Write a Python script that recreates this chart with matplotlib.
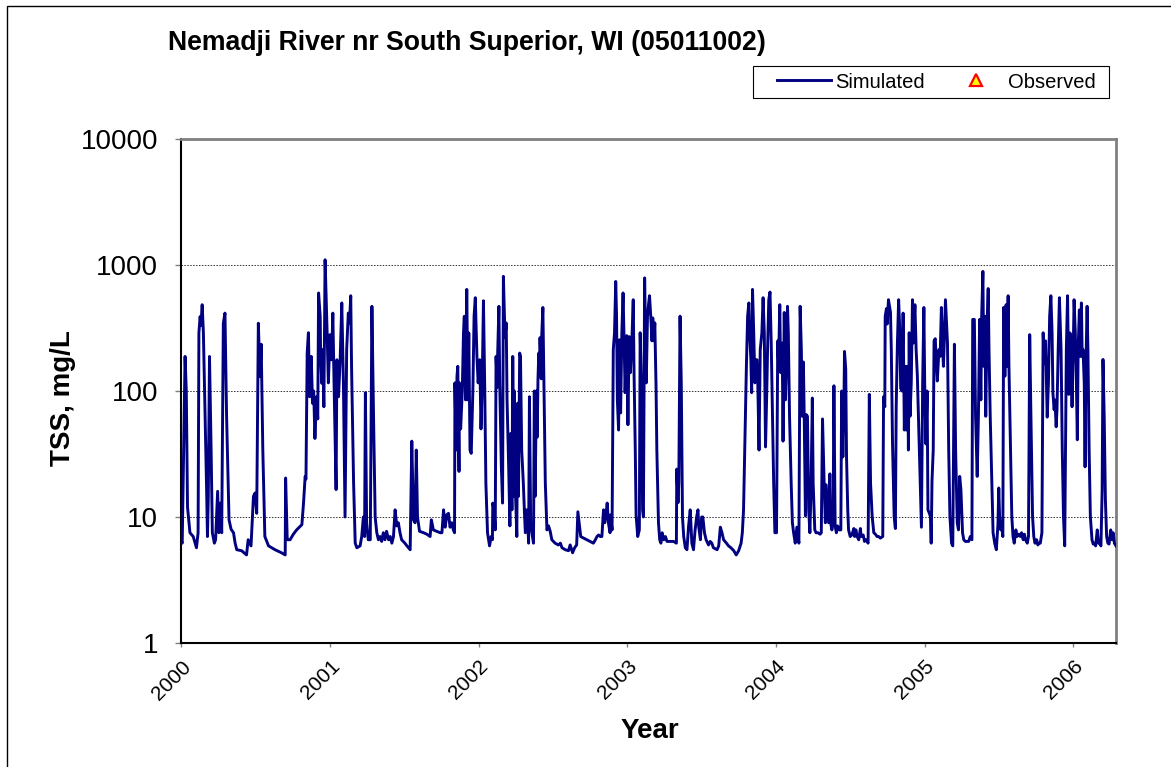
import numpy as np
import matplotlib
matplotlib.use("Agg")
import matplotlib.pyplot as plt
from matplotlib.patches import Rectangle
from matplotlib.ticker import FixedLocator, NullLocator

plt.rcParams['font.family'] = ['Liberation Sans', 'DejaVu Sans']

title = "Nemadji River nr South Superior, WI (05011002)"
start = np.datetime64('2000-01-01')
end_day = 2297
year_labels = ['2000', '2001', '2002', '2003', '2004', '2005', '2006']
y_ticks = [1, 10, 100, 1000, 10000]

# days since 2000-01-01, simulated TSS (mg/L), split by calendar year
day_2000 = [0, 3, 10, 13, 16, 22, 30, 38, 42, 44, 47, 49, 52, 55, 63, 65, 67, 70, 74, 77,
            82, 85, 90, 93, 97, 100, 104, 108, 112, 118, 123, 129, 133, 137, 149, 161, 165,
            172, 178, 182, 186, 190, 194, 197, 201, 206, 215, 231, 247, 256, 257, 261, 268,
            276, 284, 297, 301, 305, 307, 310, 313, 316, 320, 323, 326, 329, 333, 336, 338,
            342, 343, 346, 348, 351, 354, 359, 362]
tss_2000 = [6.5, 6.2, 188, 100, 12, 7.5, 7.0, 5.7, 7.5, 290, 390, 330, 484, 290, 16, 7.0, 14,
            188, 34, 7.5, 6.2, 6.6, 16, 7.5, 12.9, 7.5, 345, 415, 63, 9.5, 8.0, 7.5, 6.2, 5.5,
            5.4, 5.0, 6.6, 5.9, 14.6, 15.5, 10.7, 345, 130, 235, 34, 7.0, 5.9, 5.5, 5.2, 5.0,
            20.4, 6.6, 6.6, 7.3, 7.9, 8.7, 12.9, 21, 20, 200, 290, 90, 188, 80, 100, 42, 90,
            60, 600, 390, 188, 115, 213, 75, 1100, 290, 116]

day_2001 = [366, 370, 373, 376, 381, 383, 387, 391, 395, 399, 403, 407, 411, 414, 417, 419,
            424, 428, 432, 440, 444, 448, 451, 453, 456, 460, 465, 469, 473, 477, 481, 485,
            489, 493, 497, 501, 505, 510, 514, 518, 522, 526, 530, 534, 538, 542, 546, 550,
            555, 563, 567, 571, 575, 578, 581, 586, 596, 604, 612, 615, 620, 628, 637, 641,
            645, 649, 653, 657, 661, 665, 669, 672, 673, 676, 678, 680, 683, 684, 687, 691,
            694, 696, 699, 702, 705, 707, 710, 713, 717, 720, 723, 727, 730]
tss_2001 = [280, 177, 415, 116, 16.5, 177, 90, 177, 500, 116, 10, 213, 415, 347, 570, 157,
            18.6, 6.2, 5.7, 5.9, 7.0, 10, 7.0, 97, 9.0, 6.6, 6.6, 470, 63, 10, 7.5, 6.6, 7.0,
            6.4, 7.5, 6.6, 7.7, 6.6, 7.0, 6.2, 7.0, 11.4, 8.5, 9.0, 7.5, 6.6, 6.4, 6.2, 5.9,
            5.5, 40, 9.5, 9.0, 34, 10, 7.7, 7.5, 7.3, 7.0, 9.5, 7.9, 7.7, 7.5, 7.5, 11.4, 8.3,
            10.4, 10.7, 8.3, 9.0, 7.9, 7.5, 116, 34, 131, 157, 23, 116, 50, 100, 289, 392, 85,
            640, 85, 289, 34, 32, 100, 392, 550, 188, 116]

day_2002 = [734, 737, 740, 743, 746, 749, 753, 758, 762, 765, 766, 769, 772, 774, 777, 778,
            781, 783, 787, 790, 792, 795, 796, 799, 801, 805, 808, 810, 813, 815, 818, 819,
            822, 825, 827, 829, 832, 834, 837, 841, 844, 846, 849, 851, 854, 856, 859, 862,
            866, 868, 870, 873, 875, 877, 879, 881, 882, 885, 886, 889, 891, 895, 899, 903,
            907, 911, 919, 927, 932, 936, 944, 952, 956, 962, 967, 972, 975, 978, 982, 989,
            997, 1005, 1013, 1018, 1022, 1026, 1030, 1034, 1038, 1041, 1044, 1047, 1050,
            1054, 1055, 1059, 1062, 1065, 1068, 1070, 1072, 1075, 1077, 1080, 1083, 1086,
            1089, 1091, 1095]
tss_2002 = [177, 50, 116, 520, 116, 18.6, 7.5, 5.9, 7.0, 6.6, 12.9, 11.4, 7.9, 188, 107, 200,
            470, 116, 25, 12.9, 813, 347, 265, 347, 85, 25, 8.5, 46, 11.4, 188, 14.6, 100,
            14.6, 7.0, 80, 14.6, 200, 188, 34, 18.6, 10.4, 7.5, 11.4, 10.4, 6.2, 90, 9.0, 7.5,
            6.2, 100, 14.6, 100, 43, 125, 200, 131, 265, 125, 265, 460, 157, 18.6, 7.9, 8.5,
            7.7, 6.6, 6.2, 6.0, 6.2, 5.7, 5.5, 5.4, 6.0, 5.2, 5.7, 6.0, 11.0, 9.0, 7.0, 6.8,
            6.6, 6.4, 6.2, 6.6, 7.0, 7.2, 7.0, 7.0, 11.4, 9.0, 10.4, 12.9, 9.0, 7.5, 10.4,
            7.9, 213, 289, 740, 392, 85, 49, 255, 67, 289, 600, 213, 97, 275]

day_2003 = [1098, 1101, 1104, 1108, 1111, 1113, 1116, 1118, 1122, 1126, 1128, 1131, 1134,
            1136, 1139, 1143, 1146, 1149, 1151, 1154, 1157, 1159, 1162, 1164, 1167, 1169,
            1173, 1176, 1179, 1182, 1186, 1190, 1194, 1202, 1210, 1217, 1218, 1221, 1223,
            1226, 1229, 1232, 1235, 1239, 1243, 1247, 1251, 1255, 1259, 1263, 1267, 1270,
            1272, 1276, 1279, 1282, 1286, 1290, 1296, 1300, 1304, 1308, 1317, 1321, 1325,
            1329, 1333, 1340, 1345, 1351, 1358, 1364, 1370, 1376, 1379, 1382, 1385, 1389,
            1392, 1395, 1397, 1400, 1402, 1404, 1407, 1410, 1412, 1415, 1417, 1420, 1423,
            1427, 1430, 1433, 1436, 1439, 1441, 1444, 1447, 1450, 1453, 1456, 1459]
tss_2003 = [54, 270, 140, 270, 530, 140, 34, 10.4, 7.0, 7.9, 290, 116, 11.4, 10, 790, 116,
            392, 500, 570, 392, 250, 380, 250, 347, 110, 34, 9.0, 6.6, 6.2, 7.5, 6.6, 7.0,
            6.4, 6.4, 6.4, 6.2, 24, 13, 19, 392, 116, 10, 7.0, 5.7, 5.5, 8.5, 11.4, 6.2, 5.5,
            7.9, 10.1, 11.4, 8.3, 6.6, 10, 10, 7.5, 6.6, 6.0, 6.4, 6.2, 5.7, 5.5, 5.9, 8.3,
            7.5, 6.6, 6.2, 5.9, 5.7, 5.4, 5.0, 5.4, 6.2, 7.5, 11.4, 34, 157, 392, 500, 289,
            177, 97, 640, 289, 116, 177, 177, 116, 34, 213, 289, 550, 289, 36, 97, 213, 530,
            610, 240, 63, 18.6, 7.5]

day_2004 = [1463, 1466, 1468, 1471, 1473, 1477, 1479, 1482, 1485, 1488, 1490, 1492, 1495,
            1499, 1502, 1505, 1509, 1513, 1518, 1521, 1524, 1526, 1529, 1531, 1534, 1536,
            1539, 1542, 1545, 1548, 1551, 1553, 1557, 1560, 1565, 1570, 1573, 1576, 1580,
            1583, 1585, 1588, 1591, 1594, 1596, 1599, 1602, 1604, 1607, 1610, 1613, 1617,
            1621, 1623, 1626, 1629, 1630, 1633, 1635, 1638, 1640, 1644, 1648, 1653, 1655,
            1658, 1661, 1665, 1669, 1671, 1676, 1679, 1683, 1688, 1691, 1694, 1698, 1702,
            1706, 1710, 1714, 1718, 1724, 1726, 1729, 1730, 1733, 1735, 1738, 1741, 1743,
            1745, 1748, 1752, 1755, 1757, 1760, 1763, 1766, 1768, 1771, 1774, 1777, 1780,
            1782, 1785, 1787, 1789, 1791, 1794, 1797, 1799, 1803, 1806, 1809, 1812, 1816,
            1819, 1822, 1825]
tss_2004 = [7.5, 250, 165, 484, 140, 240, 40, 420, 85, 213, 470, 289, 63, 18.6, 9.0, 7.5,
            6.2, 8.3, 6.2, 470, 213, 63, 170, 65, 10.2, 65, 63, 11.4, 7.5, 18.6, 88, 18.6,
            7.9, 7.5, 7.5, 7.3, 7.5, 60, 18.6, 9.0, 18, 12.9, 9.0, 22, 9.0, 7.9, 9.0, 110,
            8.5, 7.5, 8.5, 7.9, 7.9, 100, 30, 100, 206, 150, 30, 11.4, 7.9, 7.0, 7.2, 8.1,
            7.0, 7.9, 7.0, 6.6, 8.1, 7.0, 7.2, 6.4, 6.6, 6.2, 94, 18.6, 10.1, 7.5, 7.3, 7.0,
            7.0, 6.8, 7.0, 90, 75, 392, 450, 340, 530, 460, 420, 213, 38, 10.1, 8.1, 75, 240,
            530, 290, 105, 100, 415, 49, 157, 49, 157, 34, 290, 63, 116, 530, 240, 484, 213,
            131, 56, 18.6, 8.3, 116, 460]

day_2005 = [1827, 1830, 1833, 1835, 1838, 1841, 1843, 1845, 1848, 1850, 1853, 1856, 1858,
            1862, 1865, 1868, 1870, 1873, 1875, 1878, 1880, 1883, 1886, 1889, 1893, 1896,
            1900, 1903, 1907, 1910, 1913, 1916, 1920, 1923, 1927, 1931, 1935, 1939, 1943,
            1945, 1949, 1952, 1956, 1959, 1962, 1965, 1967, 1970, 1972, 1975, 1977, 1980,
            1983, 1985, 1988, 1992, 1995, 1999, 2003, 2007, 2009, 2011, 2014, 2016, 2019,
            2021, 2024, 2027, 2029, 2032, 2034, 2038, 2041, 2044, 2047, 2051, 2054, 2058,
            2062, 2065, 2069, 2072, 2075, 2079, 2082, 2085, 2088, 2092, 2095, 2098, 2102,
            2105, 2108, 2111, 2115, 2118, 2121, 2124, 2128, 2131, 2134, 2137, 2140, 2142,
            2145, 2147, 2150, 2152, 2155, 2158, 2162, 2165, 2168, 2171, 2175, 2178, 2181,
            2184, 2186, 2189]
tss_2005 = [116, 38, 100, 11.4, 10.8, 10.1, 6.2, 19.5, 34, 250, 260, 157, 120, 213, 188, 460,
            289, 157, 240, 530, 392, 240, 34, 10.1, 6.2, 5.9, 235, 34, 9.0, 7.9, 21, 16.5,
            7.5, 6.6, 6.4, 6.4, 6.4, 7.0, 6.6, 370, 370, 63, 21, 63, 370, 85, 392, 890, 157,
            392, 63, 320, 650, 213, 63, 18.6, 7.5, 6.2, 5.5, 8.7, 17, 10.1, 7.9, 8.7, 7.0,
            460, 131, 484, 157, 570, 157, 34, 10.1, 7.0, 6.2, 7.9, 7.0, 7.3, 7.0, 7.5, 6.6,
            7.3, 6.6, 6.2, 7.0, 280, 63, 10.1, 7.0, 6.2, 6.6, 6.0, 6.2, 6.2, 7.5, 290, 165,
            250, 62, 116, 392, 570, 289, 97, 71, 85, 52, 71, 213, 550, 213, 34, 10.1, 5.9,
            213, 570, 94, 289, 213, 75]

day_2006 = [2192, 2194, 2197, 2199, 2202, 2204, 2207, 2209, 2212, 2214, 2216, 2219, 2221,
            2223, 2226, 2228, 2231, 2234, 2238, 2241, 2244, 2247, 2251, 2254, 2257, 2260,
            2263, 2265, 2268, 2271, 2274, 2277, 2280, 2284, 2287, 2290, 2293, 2297]
tss_2006 = [213, 530, 289, 157, 41, 213, 440, 188, 500, 188, 213, 116, 25, 157, 470, 213, 34,
            10.1, 6.6, 6.1, 6.2, 5.9, 7.9, 6.2, 6.2, 5.9, 16.5, 178, 63, 13.5, 7.0, 6.2, 6.1,
            7.9, 6.6, 7.5, 6.2, 5.9]

days = np.concatenate([day_2000, day_2001, day_2002, day_2003, day_2004, day_2005, day_2006])
tss = np.concatenate([tss_2000, tss_2001, tss_2002, tss_2003, tss_2004, tss_2005, tss_2006])
dates = start + days.astype('timedelta64[D]')

W, H = 1171, 767
fig = plt.figure(figsize=(W / 100, H / 100), dpi=100)
fig.patch.set_facecolor('white')
ax = fig.add_axes([181 / W, 1 - 643 / H, (1116 - 181) / W, (643 - 139) / H])

ax.plot(dates, tss, color='#000080', lw=2.1, label='Simulated', zorder=3)
ax.plot([], [], marker='^', ls='none', mfc='yellow', mec='red', mew=1.6, ms=8,
        label='Observed')

ax.set_yscale('log')
ax.set_ylim(1, 10000)
ax.yaxis.set_major_locator(FixedLocator(y_ticks))
ax.yaxis.set_minor_locator(NullLocator())
ax.set_yticklabels([str(v) for v in y_ticks])
ax.set_xlim(start, start + np.timedelta64(end_day, 'D'))
ax.set_xticks([np.datetime64(y + '-01-01') for y in year_labels])
ax.set_xticklabels(year_labels, rotation=45, ha='right', rotation_mode='anchor')
ax.xaxis.set_minor_locator(NullLocator())

ax.grid(axis='y', which='major', color='#303030', ls=(0, (1.5, 1.5)), lw=0.7, zorder=1)

for side in ['left', 'bottom']:
    ax.spines[side].set_color('black')
    ax.spines[side].set_linewidth(1.5)
for side in ['top', 'right']:
    ax.spines[side].set_color('#808080')
    ax.spines[side].set_linewidth(2)

ax.tick_params(axis='y', direction='out', length=4.5, width=1, color='#808080',
               labelsize=20, pad=12)
ax.tick_params(axis='x', direction='out', length=3, width=1, color='#808080',
               labelsize=15, pad=7)

# legend: entries placed by matplotlib, frame drawn at the reference box
leg = fig.legend(loc='center left', bbox_to_anchor=(777 / W, 1 - 82 / H), ncol=2,
                 fontsize=14.5, frameon=False, handlelength=2.7, columnspacing=1.2,
                 borderpad=0, handletextpad=0.2, borderaxespad=0)
fig.add_artist(Rectangle((753 / W, 1 - 98 / H), 356 / W, 32 / H, transform=fig.transFigure,
                         fill=False, ec='black', lw=0.8))

fig.text(168 / W, 1 - 43 / H, title, ha='left', va='center', fontsize=19.2,
         fontweight='bold')
fig.text(63 / W, 1 - 398 / H, 'TSS, mg/L', ha='center', va='center', rotation=90,
         fontsize=20, fontweight='bold')
fig.text(650 / W, 1 - 731 / H, 'Year', ha='center', va='center', fontsize=20,
         fontweight='bold')

fig.add_artist(Rectangle((7 / W, -0.05), 1.2, 1 - 6 / H + 0.05, transform=fig.transFigure,
                         fill=False, ec='black', lw=1))

fig.savefig('out.png', dpi=100)
